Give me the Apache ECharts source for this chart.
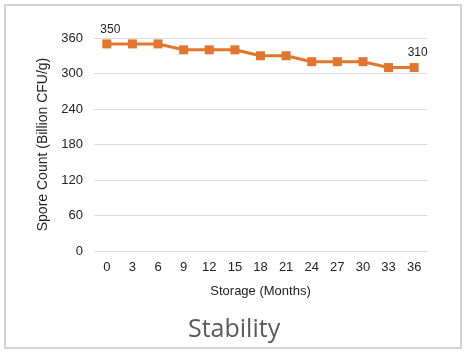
<!DOCTYPE html>
<html>
<head>
<meta charset="utf-8">
<script src="https://cdn.jsdelivr.net/npm/echarts@6/dist/echarts.min.js"></script>
<style>
  html, body { margin: 0; padding: 0; background: #fff; }
  #frame {
    position: absolute; left: 4px; top: 4px; width: 454px; height: 341px;
    border: 2px solid #d4d4d4; box-sizing: content-box;
  }
  #chart { position: absolute; left: 0; top: 0; width: 466px; height: 353px; }
</style>
</head>
<body>
<div id="frame"></div>
<div id="chart"></div>
<script>
  // storage months and spore counts
  const months = ['0', '3', '6', '9', '12', '15', '18', '21', '24', '27', '30', '33', '36'];
  const sporeCount = [350, 350, 350, 340, 340, 340, 330, 330, 320, 320, 320, 310, 310];
  const labelIdx = [0, 12];

  const chart = echarts.init(document.getElementById('chart'));
  chart.setOption({
    animation: false,
    title: {
      text: 'Stability',
      left: 183,
      top: 312,
      textStyle: { fontSize: 25, fontWeight: 'normal', color: '#5a5a5a', fontFamily: 'Open Sans' }
    },
    grid: { left: 94, right: 39, top: 38, bottom: 102 },
    xAxis: {
      type: 'category',
      data: months,
      name: 'Storage (Months)',
      nameLocation: 'middle',
      nameGap: 34,
      nameTextStyle: { fontSize: 13, color: '#222', fontFamily: 'Liberation Sans' },
      axisLine: { show: false },
      axisTick: { show: false },
      axisLabel: { fontSize: 13, color: '#222', margin: 10, fontFamily: 'Liberation Sans' }
    },
    yAxis: {
      type: 'value',
      min: 0, max: 360, interval: 60,
      name: 'Spore Count (Billion CFU/g)',
      nameLocation: 'middle',
      nameGap: 38,
      nameTextStyle: { fontSize: 14, color: '#222', fontFamily: 'Liberation Sans' },
      axisLabel: { fontSize: 13, color: '#222', margin: 11, fontFamily: 'Liberation Sans' },
      splitLine: { lineStyle: { color: '#dcdcdc', width: 1 } }
    },
    series: [{
      type: 'line',
      data: sporeCount.map((v, i) => ({
        value: v,
        label: { show: labelIdx.includes(i), position: [-2, -16] }
      })),
      symbol: 'rect',
      symbolSize: 9,
      lineStyle: { color: '#e2762e', width: 3 },
      itemStyle: { color: '#e2762e' },
      label: { fontSize: 12, color: '#222', fontFamily: 'Liberation Sans' }
    }]
  });
</script>
</body>
</html>
